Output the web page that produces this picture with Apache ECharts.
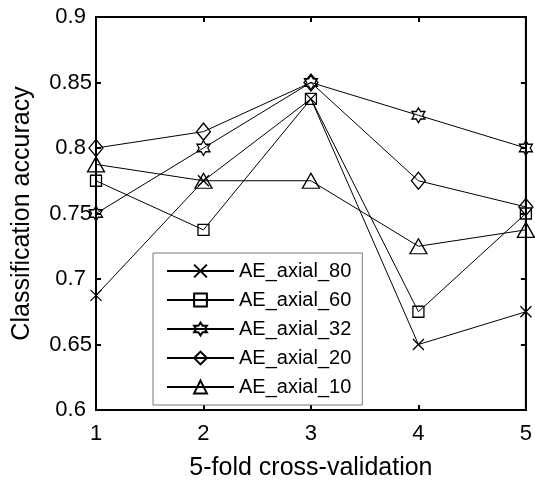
<!DOCTYPE html>
<html>
<head>
<meta charset="utf-8">
<script src="https://cdn.jsdelivr.net/npm/echarts@6/dist/echarts.min.js"></script>
<style>
  html, body { margin: 0; padding: 0; background: #fff; }
  #chart { width: 535px; height: 486px; }
</style>
</head>
<body>
<div id="chart"></div>
<script>
// folds on the x axis
const folds = [1, 2, 3, 4, 5]
const yTicks = [0.6, 0.65, 0.7, 0.75, 0.8, 0.85, 0.9]

// classification accuracy per fold
const axial80 = [0.6875, 0.775, 0.8375, 0.65, 0.675]
const axial60 = [0.775, 0.7375, 0.8375, 0.675, 0.75]
const axial32 = [0.75, 0.8, 0.85, 0.825, 0.8]
const axial20 = [0.8, 0.8125, 0.85, 0.775, 0.755]
const axial10 = [0.7875, 0.775, 0.775, 0.725, 0.7375]

const names = ['AE_axial_80', 'AE_axial_60', 'AE_axial_32', 'AE_axial_20', 'AE_axial_10']

const crossPath = 'path://M0,0L10,10M10,0L0,10'
const hexPath = 'path://M10,0L12.887,5L18.66,5L15.77,10L18.66,15L12.887,15L10,20L7.113,15L1.34,15L4.23,10L1.34,5L7.113,5Z'

const FONT = 'Liberation Sans, Arial, Helvetica, sans-serif'

function pairs (vals) {
  return folds.map((f, i) => [f, vals[i]])
}

function makeSeries (name, vals, symbol, size) {
  return {
    name: name,
    type: 'line',
    data: pairs(vals),
    symbol: symbol,
    symbolSize: size,
    symbolKeepAspect: true,
    showAllSymbol: true,
    lineStyle: { color: '#000', width: 1 },
    itemStyle: { color: 'rgba(0,0,0,0)', borderColor: '#000', borderWidth: 1.3 },
    emphasis: { disabled: true }
  }
}

const myChart = echarts.init(document.getElementById('chart'))

myChart.setOption({
  animation: false,
  backgroundColor: '#fff',
  grid: {
    left: 96,
    right: 3,
    top: 17,
    bottom: 73,
    show: true,
    borderColor: '#000',
    borderWidth: 2
  },
  legend: {
    data: names,
    orient: 'vertical',
    left: 153,
    top: 253,
    itemWidth: 67,
    itemHeight: 16,
    itemGap: 9,
    padding: [8, 11, 8, 13],
    borderColor: '#777',
    borderWidth: 1,
    backgroundColor: '#fff',
    textStyle: { fontFamily: FONT, fontSize: 20, color: '#000' }
  },
  xAxis: [{
    type: 'value',
    min: 1,
    max: 5,
    interval: 1,
    name: '5-fold cross-validation',
    nameLocation: 'middle',
    nameGap: 46,
    nameTextStyle: { fontFamily: FONT, fontSize: 25, color: '#000' },
    axisLine: { show: true, lineStyle: { color: '#000', width: 2 } },
    axisTick: { show: true, inside: true, length: 5, lineStyle: { color: '#000', width: 2 } },
    axisLabel: { fontFamily: FONT, fontSize: 22, color: '#000', margin: 13 },
    splitLine: { show: false }
  }, {
    type: 'value',
    position: 'top',
    min: 1,
    max: 5,
    interval: 1,
    axisLine: { show: true, lineStyle: { color: '#000', width: 2 } },
    axisTick: { show: true, inside: true, length: 5, lineStyle: { color: '#000', width: 2 } },
    axisLabel: { show: false },
    splitLine: { show: false }
  }],
  yAxis: [{
    type: 'value',
    min: yTicks[0],
    max: yTicks[yTicks.length - 1],
    interval: 0.05,
    name: 'Classification accuracy',
    nameLocation: 'middle',
    nameGap: 61,
    nameTextStyle: { fontFamily: FONT, fontSize: 25, color: '#000' },
    axisLine: { show: true, lineStyle: { color: '#000', width: 2 } },
    axisTick: { show: true, inside: true, length: 5, lineStyle: { color: '#000', width: 2 } },
    axisLabel: {
      fontFamily: FONT,
      fontSize: 22,
      color: '#000',
      margin: 4,
      formatter: v => {
        const s = String(parseFloat(v.toFixed(2)))
        return s.length < 4 ? s + ' ' : s
      }
    },
    splitLine: { show: false }
  }, {
    type: 'value',
    position: 'right',
    min: yTicks[0],
    max: yTicks[yTicks.length - 1],
    interval: 0.05,
    axisLine: { show: true, lineStyle: { color: '#000', width: 2 } },
    axisTick: { show: true, inside: true, length: 5, lineStyle: { color: '#000', width: 2 } },
    axisLabel: { show: false },
    splitLine: { show: false }
  }],
  series: [
    makeSeries(names[0], axial80, crossPath, 11),
    makeSeries(names[1], axial60, 'rect', 11),
    makeSeries(names[2], axial32, hexPath, 15),
    makeSeries(names[3], axial20, 'diamond', [14, 17]),
    makeSeries(names[4], axial10, 'triangle', [17, 15])
  ]
})
</script>
</body>
</html>
